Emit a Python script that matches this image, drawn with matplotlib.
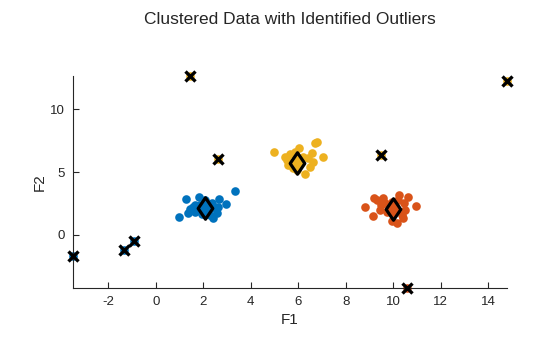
import matplotlib
matplotlib.use("Agg")
import matplotlib.pyplot as plt
from matplotlib.path import Path
import numpy as np

plt.rcParams['font.family'] = ['Liberation Sans', 'DejaVu Sans']
plt.rcParams['axes.unicode_minus'] = False

# Cluster members (F1, F2)
blue_x = [3.33, 1.29, 1.83, 2.66, 2.96, 0.99, 1.44, 1.37, 1.65, 2.42, 2.56, 2.63,
          2.35, 2.21, 1.86, 2.07, 2.28, 1.65, 2.49, 1.95, 1.55, 2.10]
blue_y = [3.50, 2.90, 3.05, 2.86, 2.44, 1.46, 2.04, 1.73, 1.85, 1.33, 1.73, 2.25,
          2.52, 1.85, 2.39, 2.78, 1.59, 2.39, 2.15, 1.67, 2.20, 1.95]

yellow_x = [4.99, 6.70, 6.80, 7.05, 6.56, 6.04, 5.44, 5.51, 6.63, 6.28, 5.79, 6.49,
            5.58, 5.86, 6.21, 6.42, 5.93, 5.65, 6.05, 5.90]
yellow_y = [6.63, 7.30, 7.42, 6.18, 6.50, 6.90, 6.23, 5.97, 5.83, 4.83, 5.31, 5.43,
            5.57, 6.63, 6.23, 6.10, 5.17, 6.42, 5.95, 5.60]

orange_x = [8.81, 9.13, 9.19, 9.30, 9.58, 9.48, 9.65, 10.25, 10.63, 10.96, 10.45, 10.35,
            9.93, 9.72, 9.44, 10.42, 10.21, 10.49, 10.17, 9.85, 10.05, 9.95]
orange_y = [2.20, 1.51, 2.97, 2.78, 2.92, 2.39, 2.52, 3.18, 3.00, 2.33, 2.52, 1.59,
            1.11, 1.85, 1.99, 1.33, 2.78, 1.99, 0.93, 2.40, 1.80, 2.60]

# Outliers and the cluster each was assigned to
out_x = [-3.49, -1.34, -0.92, 1.44, 2.62, 9.48, 10.59, 14.79]
out_y = [-1.67, -1.19, -0.48, 12.65, 6.05, 6.36, -4.22, 12.25]
out_cluster = [0, 0, 0, 1, 1, 1, 2, 1]

# Cluster centroids
cent_x = [2.07, 5.95, 9.99]
cent_y = [2.15, 5.73, 2.07]

colors = ['#0072BD', '#EDB120', '#D95319']
text_color = '#262626'

# Diamond a bit narrower than it is tall
diamond = Path([(0, 1), (0.68, 0), (0, -1), (-0.68, 0), (0, 1)],
               [Path.MOVETO, Path.LINETO, Path.LINETO, Path.LINETO, Path.CLOSEPOLY])

fig = plt.figure(figsize=(5.6, 3.37), dpi=100)
ax = fig.add_axes([73 / 560, 1 - 288 / 337, 434 / 560, 212 / 337])

clusters = [(blue_x, blue_y), (yellow_x, yellow_y), (orange_x, orange_y)]
for k, (cx, cy) in enumerate(clusters):
    ox = [x for x, c in zip(out_x, out_cluster) if c == k]
    oy = [y for y, c in zip(out_y, out_cluster) if c == k]
    ax.plot(list(cx) + ox, list(cy) + oy, 'o', color=colors[k], markersize=6.2,
            markeredgewidth=0, clip_on=False, zorder=2)

ax.plot(out_x, out_y, 'x', color='black', markersize=7.5, markeredgewidth=2.4,
        clip_on=False, zorder=4)

for k in range(3):
    ax.plot(cent_x[k], cent_y[k], marker=diamond, linestyle='none', markersize=15.5,
            markerfacecolor=colors[k], markeredgecolor='black', markeredgewidth=2.3,
            clip_on=False, zorder=5)

all_x = blue_x + yellow_x + orange_x + out_x
all_y = blue_y + yellow_y + orange_y + out_y
ax.set_xlim(min(all_x), max(all_x))
ax.set_ylim(min(all_y), max(all_y))

ax.set_xticks(np.arange(-2, 15, 2))
ax.set_yticks([0, 5, 10])
ax.tick_params(direction='in', length=4, width=0.8, colors=text_color,
               labelsize=9.5, pad=6)
for side in ['top', 'right']:
    ax.spines[side].set_visible(False)
for side in ['left', 'bottom']:
    ax.spines[side].set_color(text_color)
    ax.spines[side].set_linewidth(0.8)

ax.set_xlabel('F1', fontsize=11, color=text_color, labelpad=3)
ax.set_ylabel('F2', fontsize=11, color=text_color, labelpad=2)
fig.suptitle('Clustered Data with Identified Outliers', fontsize=12.5,
             color=text_color, x=(73 + 507) / 2 / 560, y=1 - 12 / 337, va='top')

fig.savefig('out.png', dpi=100)
